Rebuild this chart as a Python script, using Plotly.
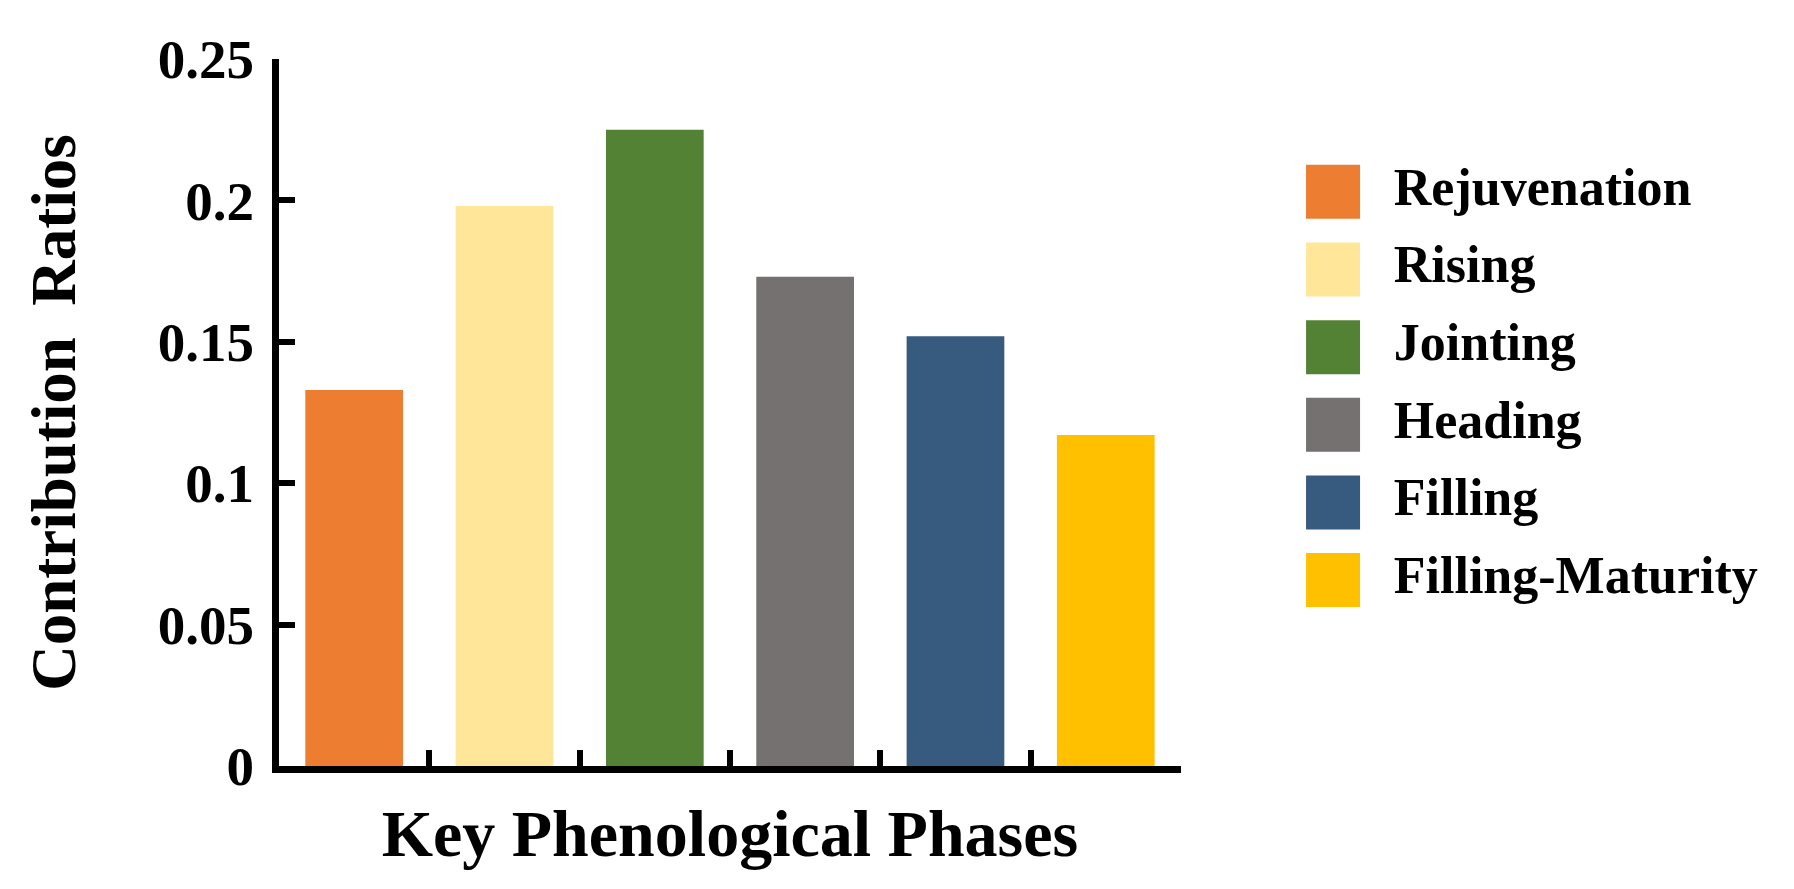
import plotly.graph_objects as go

# data
phases = ["Rejuvenation", "Rising", "Jointing", "Heading", "Filling", "Filling-Maturity"]
ratios = [0.133, 0.198, 0.225, 0.173, 0.152, 0.117]
colors = ["#ED7D31", "#FFE699", "#548235", "#767171", "#375A7F", "#FFC000"]
y_ticks = [0, 0.05, 0.1, 0.15, 0.2, 0.25]
y_tick_text = ["0", "0.05", "0.1", "0.15", "0.2", "0.25"]

FONT = "Liberation Serif"

fig = go.Figure()

# bars
fig.add_trace(go.Bar(
    x=phases, y=ratios,
    marker=dict(color=colors, line=dict(width=0)),
    showlegend=False,
))

# legend drawn as a column of square markers on a hidden second axis
fig.add_trace(go.Scatter(
    x=[0] * len(phases), y=phases,
    mode="markers+text",
    marker=dict(symbol="square", size=54, color=colors),
    text=["<b>\u2002%s</b>" % p for p in phases],
    textposition="middle right",
    textfont=dict(family=FONT, size=52, color="black"),
    xaxis="x2", yaxis="y2",
    cliponaxis=False,
    showlegend=False,
))

fig.update_layout(
    width=1794, height=889,
    margin=dict(l=271, r=20, t=51, b=131),
    paper_bgcolor="white",
    plot_bgcolor="white",
    bargap=0.35,
    font=dict(family=FONT, color="black"),
    xaxis=dict(
        domain=[0, 0.6001],
        type="category",
        range=[-0.5, 5.5],
        showline=True, linewidth=7, linecolor="black",
        ticks="inside", tickson="boundaries", ticklen=16, tickwidth=6, tickcolor="black",
        showticklabels=False,
        showgrid=False, zeroline=False,
        title=dict(text="<b>Key Phenological Phases</b>",
                   font=dict(family=FONT, size=66), standoff=40),
    ),
    yaxis=dict(
        range=[0, 0.25],
        tickvals=y_ticks, ticktext=y_tick_text,
        showline=True, linewidth=7, linecolor="black",
        ticks="inside", ticklen=16, tickwidth=6, tickcolor="black",
        tickfont=dict(family=FONT, size=55, weight="bold"),
        ticklabelstandoff=7,
        showgrid=False, zeroline=False,
        title=dict(text="<b>Contribution  Ratios</b>",
                   font=dict(family=FONT, size=63), standoff=64),
    ),
    xaxis2=dict(domain=[0.7013, 1], range=[0, 1], visible=False, anchor="y2"),
    yaxis2=dict(domain=[0.208, 0.867], type="category", categoryorder="array",
                categoryarray=phases, range=[5.5, -0.5], visible=False, anchor="x2"),
)

fig.write_html("out.html")
